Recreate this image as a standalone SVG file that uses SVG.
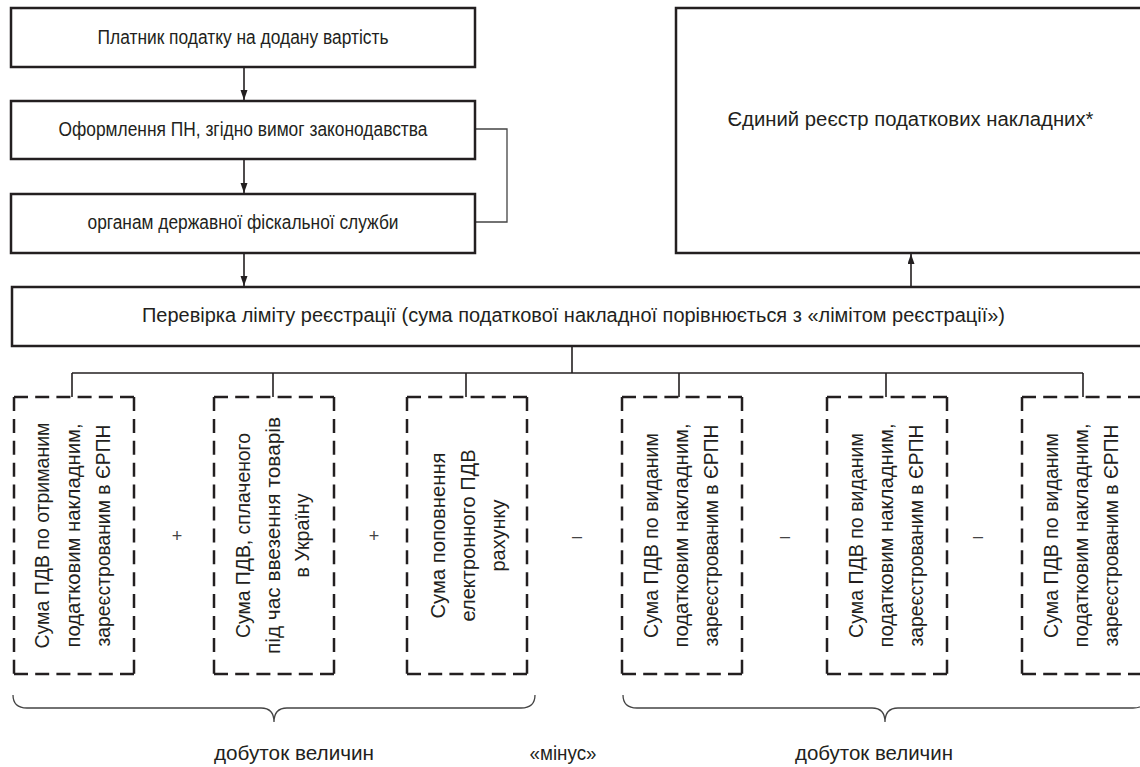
<svg xmlns="http://www.w3.org/2000/svg" width="1140" height="767" viewBox="0 0 1140 767">
<style>
.box{fill:#fff;stroke:#231f20;stroke-width:2.5}
.dh{stroke:#231f20;stroke-width:2.5;stroke-dasharray:14 7.2;fill:none}
.dv{stroke:#231f20;stroke-width:2.5;stroke-dasharray:14 7.9;fill:none}
.ln{stroke:#231f20;stroke-width:1.6;fill:none}
.thin{stroke:#444;stroke-width:1.3;fill:none}
text{font-family:"Liberation Sans",Arial,sans-serif;fill:#231f20;font-size:20px;text-anchor:middle}
.op{fill:#444;font-size:18px}
</style>
<defs>
<marker id="ah" markerUnits="userSpaceOnUse" markerWidth="10" markerHeight="8" refX="10" refY="3.5" orient="auto">
<path d="M0,0 L10,3.5 L0,7 z" fill="#231f20"/>
</marker>
</defs>

<g id="connectors">
<line class="ln" x1="244" y1="67" x2="244" y2="100" marker-end="url(#ah)"/>
<line class="ln" x1="244" y1="159" x2="244" y2="193" marker-end="url(#ah)"/>
<line class="ln" x1="244" y1="253" x2="244" y2="286" marker-end="url(#ah)"/>
<polyline class="thin" points="476,129 507,129 507,222 476,222"/>
<line class="ln" x1="911" y1="287" x2="911" y2="254" marker-end="url(#ah)"/>
<line class="ln" x1="572" y1="346" x2="572" y2="373"/>
<line class="ln" x1="72" y1="373" x2="1083" y2="373"/>
<line class="ln" x1="72" y1="373" x2="72" y2="397"/>
<line class="ln" x1="273" y1="373" x2="273" y2="397"/>
<line class="ln" x1="466" y1="373" x2="466" y2="397"/>
<line class="ln" x1="679" y1="373" x2="679" y2="397"/>
<line class="ln" x1="886" y1="373" x2="886" y2="397"/>
<line class="ln" x1="1083" y1="373" x2="1083" y2="397"/>
</g>

<g id="n1">
<rect class="box" x="11" y="8" width="464" height="59"/>
<text x="243" y="43.5" textLength="291" lengthAdjust="spacingAndGlyphs">Платник податку на додану вартість</text>
</g>
<g id="n2">
<rect class="box" x="11" y="101" width="464" height="58"/>
<text x="243" y="135.5" textLength="369" lengthAdjust="spacingAndGlyphs">Оформлення ПН, згідно вимог законодавства</text>
</g>
<g id="n3">
<rect class="box" x="11" y="194" width="464" height="59"/>
<text x="243" y="228.5" textLength="311" lengthAdjust="spacingAndGlyphs">органам державної фіскальної служби</text>
</g>
<g id="n4">
<rect class="box" x="676" y="8" width="470" height="245"/>
<text x="910.5" y="125.5" textLength="366" lengthAdjust="spacingAndGlyphs">Єдиний реєстр податкових накладних*</text>
</g>
<g id="n5">
<rect class="box" x="12" y="287" width="1134" height="59"/>
<text x="573.5" y="321.5" textLength="863" lengthAdjust="spacingAndGlyphs">Перевірка ліміту реєстрації (сума податкової накладної порівнюється з «лімітом реєстрації»)</text>
</g>

<g id="d1">
<line class="dh" x1="14" y1="397" x2="134" y2="397"/><line class="dh" x1="14" y1="674" x2="134" y2="674"/>
<line class="dv" x1="14" y1="397" x2="14" y2="674"/><line class="dv" x1="134" y1="397" x2="134" y2="674"/>
<text transform="translate(49,535.5) rotate(-90)" textLength="226" lengthAdjust="spacingAndGlyphs">Сума ПДВ по отриманим</text>
<text transform="translate(80,535.5) rotate(-90)" textLength="224" lengthAdjust="spacingAndGlyphs">податковим накладним,</text>
<text transform="translate(110,535.5) rotate(-90)" textLength="222" lengthAdjust="spacingAndGlyphs">зареєстрованим в ЄРПН</text>
</g>
<g id="d2">
<line class="dh" x1="214" y1="397" x2="334" y2="397"/><line class="dh" x1="214" y1="674" x2="334" y2="674"/>
<line class="dv" x1="214" y1="397" x2="214" y2="674"/><line class="dv" x1="334" y1="397" x2="334" y2="674"/>
<text transform="translate(250,535.5) rotate(-90)" textLength="205" lengthAdjust="spacingAndGlyphs">Сума ПДВ, сплаченого</text>
<text transform="translate(280,535.5) rotate(-90)" textLength="237" lengthAdjust="spacingAndGlyphs">під час ввезення товарів</text>
<text transform="translate(309,535.5) rotate(-90)" textLength="84" lengthAdjust="spacingAndGlyphs">в Україну</text>
</g>
<g id="d3">
<line class="dh" x1="407" y1="397" x2="527" y2="397"/><line class="dh" x1="407" y1="674" x2="527" y2="674"/>
<line class="dv" x1="407" y1="397" x2="407" y2="674"/><line class="dv" x1="527" y1="397" x2="527" y2="674"/>
<text transform="translate(445,535.5) rotate(-90)" textLength="166" lengthAdjust="spacingAndGlyphs">Сума поповнення</text>
<text transform="translate(475,535.5) rotate(-90)" textLength="172" lengthAdjust="spacingAndGlyphs">електронного ПДВ</text>
<text transform="translate(505,535.5) rotate(-90)" textLength="72" lengthAdjust="spacingAndGlyphs">рахунку</text>
</g>
<g id="d4">
<line class="dh" x1="622" y1="397" x2="742" y2="397"/><line class="dh" x1="622" y1="674" x2="742" y2="674"/>
<line class="dv" x1="622" y1="397" x2="622" y2="674"/><line class="dv" x1="742" y1="397" x2="742" y2="674"/>
<text transform="translate(658,535.5) rotate(-90)" textLength="205" lengthAdjust="spacingAndGlyphs">Сума ПДВ по виданим</text>
<text transform="translate(688,535.5) rotate(-90)" textLength="224" lengthAdjust="spacingAndGlyphs">податковим накладним,</text>
<text transform="translate(718,535.5) rotate(-90)" textLength="222" lengthAdjust="spacingAndGlyphs">зареєстрованим в ЄРПН</text>
</g>
<g id="d5">
<line class="dh" x1="827" y1="397" x2="947" y2="397"/><line class="dh" x1="827" y1="674" x2="947" y2="674"/>
<line class="dv" x1="827" y1="397" x2="827" y2="674"/><line class="dv" x1="947" y1="397" x2="947" y2="674"/>
<text transform="translate(863,535.5) rotate(-90)" textLength="205" lengthAdjust="spacingAndGlyphs">Сума ПДВ по виданим</text>
<text transform="translate(893,535.5) rotate(-90)" textLength="224" lengthAdjust="spacingAndGlyphs">податковим накладним,</text>
<text transform="translate(923,535.5) rotate(-90)" textLength="222" lengthAdjust="spacingAndGlyphs">зареєстрованим в ЄРПН</text>
</g>
<g id="d6">
<line class="dh" x1="1022" y1="397" x2="1142" y2="397"/><line class="dh" x1="1022" y1="674" x2="1142" y2="674"/>
<line class="dv" x1="1022" y1="397" x2="1022" y2="674"/><line class="dv" x1="1142" y1="397" x2="1142" y2="674"/>
<text transform="translate(1058,535.5) rotate(-90)" textLength="205" lengthAdjust="spacingAndGlyphs">Сума ПДВ по виданим</text>
<text transform="translate(1088,535.5) rotate(-90)" textLength="224" lengthAdjust="spacingAndGlyphs">податковим накладним,</text>
<text transform="translate(1118,535.5) rotate(-90)" textLength="222" lengthAdjust="spacingAndGlyphs">зареєстрованим в ЄРПН</text>
</g>

<g id="operators">
<text class="op" x="177" y="542">+</text>
<text class="op" x="374" y="542">+</text>
<text class="op" x="577" y="542">–</text>
<text class="op" x="785" y="542">–</text>
<text class="op" x="978" y="542">–</text>
</g>

<g id="braces">
<path class="thin" d="M13,695 Q13,708 27,708 L261,708 Q274,708 274,722 Q274,708 287,708 L521,708 Q535,708 535,695"/>
<path class="thin" d="M623,695 Q623,708 637,708 L872,708 Q885,708 885,722 Q885,708 898,708 L1133,708 Q1147,708 1147,695"/>
</g>

<g id="labels">
<text x="294" y="760" textLength="160" lengthAdjust="spacingAndGlyphs">добуток величин</text>
<text x="563" y="760" textLength="67" lengthAdjust="spacingAndGlyphs">«мінус»</text>
<text x="874" y="760" textLength="158" lengthAdjust="spacingAndGlyphs">добуток величин</text>
</g>
</svg>
